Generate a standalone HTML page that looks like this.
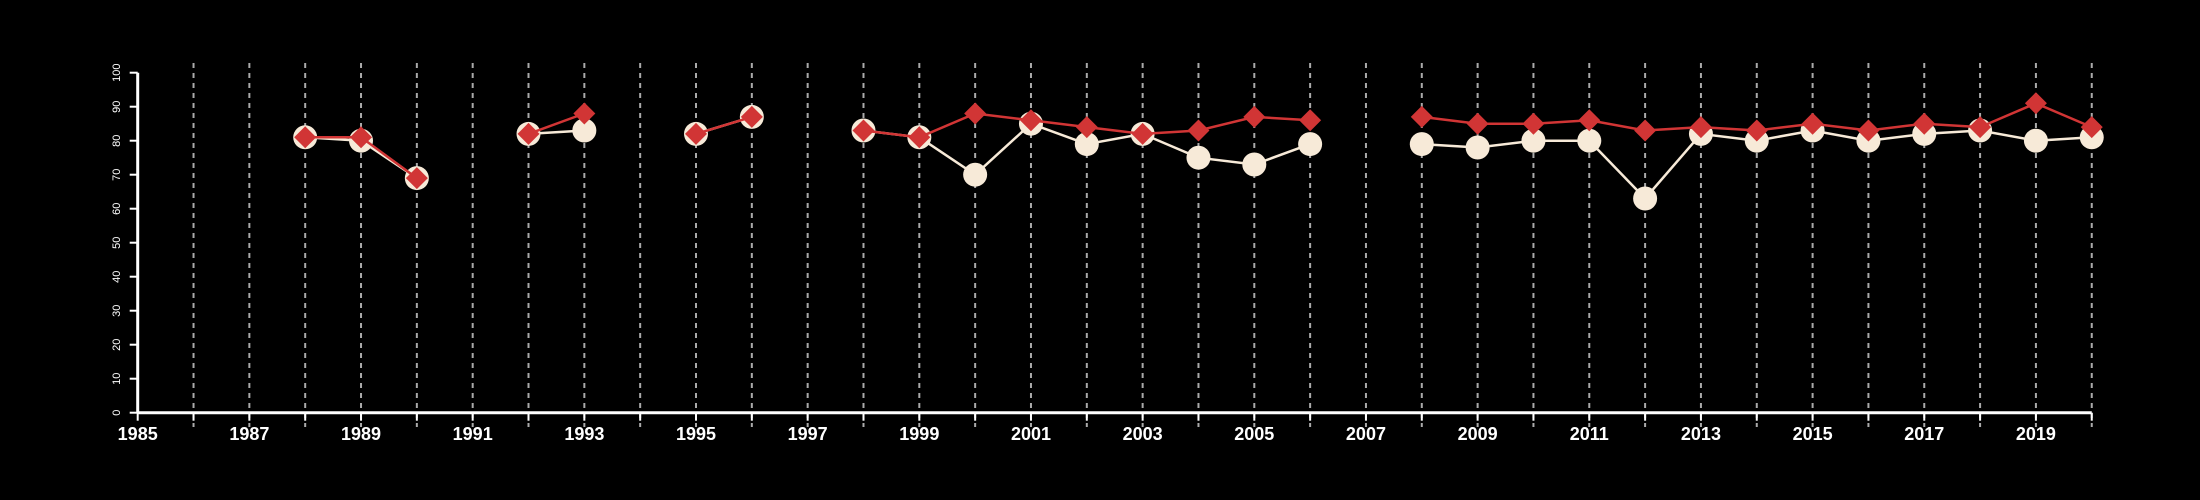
<!DOCTYPE html>
<html><head><meta charset="utf-8"><style>
html,body{margin:0;padding:0;background:#000;}
svg{display:block;font-family:"Liberation Sans",sans-serif;}
</style></head><body>
<svg id="chart" width="2200" height="500" viewBox="0 0 2200 500" xmlns="http://www.w3.org/2000/svg">
<rect width="2200" height="500" fill="#000"/>
<g id="grid"></g>
<g id="axes"></g>
<g id="series"></g>
</svg>
<script>
const years = [1988,1989,1990,1992,1993,1995,1996,1998,1999,2000,2001,2002,2003,2004,2005,2006,2008,2009,2010,2011,2012,2013,2014,2015,2016,2017,2018,2019,2020];
const whiteValues = [81,80,69,82,83,82,87,83,81,70,85,79,82,75,73,79,79,78,80,80,63,82,80,83,80,82,83,80,81];
const redValues = [81,81,69,82,88,82,87,83,81,88,86,84,82,83,87,86,87,85,85,86,83,84,83,85,83,85,84,91,84];
const xTickLabels = [1985,1987,1989,1991,1993,1995,1997,1999,2001,2003,2005,2007,2009,2011,2013,2015,2017,2019];
const yTickLabels = [0,10,20,30,40,50,60,70,80,90,100];

const NS = "http://www.w3.org/2000/svg";
const X0 = 137.7, PX_PER_YEAR = 55.83, Y0 = 412.7, PX_PER_UNIT = 3.4;
const xScale = y => X0 + (y - 1985) * PX_PER_YEAR;
const yScale = v => Y0 - v * PX_PER_UNIT;
function mk(tag, attrs, parent){ const e = document.createElementNS(NS, tag); for (const k in attrs) e.setAttribute(k, attrs[k]); parent.appendChild(e); return e; }
const grid = document.getElementById('grid'), axes = document.getElementById('axes'), series = document.getElementById('series');

for (let yr = 1986; yr <= 2020; yr++) {
  const l = mk('line', {x1:xScale(yr), x2:xScale(yr), y1:63, y2:427, stroke:'#aaa', 'stroke-width':2, 'stroke-dasharray':'5,5'}, grid);
  
  
}
const xa = mk('line', {x1:xScale(1985), x2:xScale(2020), y1:Y0, y2:Y0, stroke:'#fff', 'stroke-width':3}, axes);


for (let yr = 1985; yr <= 2020; yr++) {
  const t = mk('line', {x1:xScale(yr), x2:xScale(yr), y1:Y0, y2:Y0+8, stroke:'#fff', 'stroke-width':2}, axes);
  
  
}
xTickLabels.forEach(yr => {
  const t = mk('text', {x:xScale(yr), y:440, fill:'#fff', 'font-size':18, 'font-weight':'bold', 'text-anchor':'middle'}, axes);
  t.textContent = yr;
  
  
});
const ya = mk('line', {x1:X0, x2:X0, y1:yScale(0), y2:yScale(100), stroke:'#fff', 'stroke-width':3}, axes);


yTickLabels.forEach(v => {
  const t = mk('line', {x1:X0-8, x2:X0, y1:yScale(v), y2:yScale(v), stroke:'#fff', 'stroke-width':2}, axes);
  
  
  const y = yScale(v);
  const lb = mk('text', {x:0, y:0, fill:'#fff', 'font-size':11, 'text-anchor':'middle', transform:`translate(120,${y}) rotate(-90)`}, axes);
  lb.textContent = v;
  
  
});

function segments(vals){
  const segs = []; let cur = [];
  years.forEach((yr,i) => {
    if (i > 0 && yr - years[i-1] > 1) { segs.push(cur); cur = []; }
    cur.push([xScale(yr), yScale(vals[i])]);
  });
  segs.push(cur); return segs;
}
segments(whiteValues).forEach(s => {
  const p = mk('polyline', {points:s.map(p=>p.join(',')).join(' '), fill:'none', stroke:'#f7ead8', 'stroke-width':2.5}, series);
  
  
});
years.forEach((yr,i) => {
  const c = mk('circle', {cx:xScale(yr), cy:yScale(whiteValues[i]), r:12, fill:'#f7ead8'}, series);
  
  
});
segments(redValues).forEach(s => {
  const p = mk('polyline', {points:s.map(p=>p.join(',')).join(' '), fill:'none', stroke:'#d13535', 'stroke-width':2.5}, series);
  
  
});
years.forEach((yr,i) => {
  const x = xScale(yr), y = yScale(redValues[i]), d = 11;
  const p = mk('polygon', {points:`${x},${y-d} ${x+d},${y} ${x},${y+d} ${x-d},${y}`, fill:'#d13535'}, series);
  
  
});
</script>
</body></html>
